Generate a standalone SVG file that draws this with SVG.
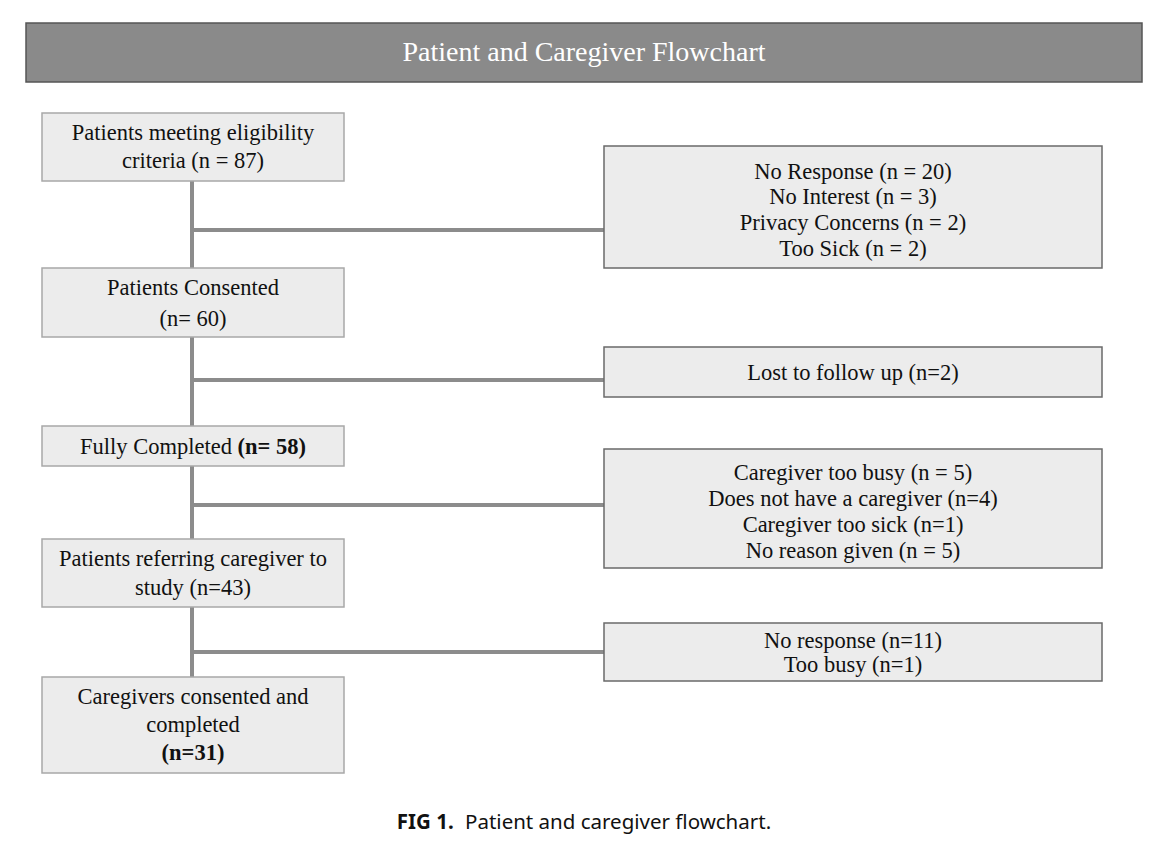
<svg xmlns="http://www.w3.org/2000/svg" width="1168" height="856" viewBox="0 0 1168 856">
<style>
.bg{fill:#ffffff}
.title{fill:#8a8a8a;stroke:#555;stroke-width:1.5}
.tt{font-family:"Liberation Serif","Times New Roman",serif;font-size:28px;fill:#ffffff;text-anchor:middle}
.lbox{fill:#ececec;stroke:#a8a8a8;stroke-width:1.5}
.rbox{fill:#ececec;stroke:#6a6a6a;stroke-width:1.5}
.t{font-family:"Liberation Serif","Times New Roman",serif;font-size:22.5px;fill:#111;text-anchor:middle}
.b{font-weight:bold}
.conn{stroke:#8c8c8c;stroke-width:4;fill:none}
.cap{font-family:"Noto Sans","Open Sans",sans-serif;font-size:20.5px;fill:#111;text-anchor:middle}
</style>
<rect class="bg" x="0" y="0" width="1168" height="856"/>
<g id="header">
<rect class="title" x="26" y="23" width="1116" height="59"/>
<text class="tt" x="584" y="61">Patient and Caregiver Flowchart</text>
</g>
<g id="connectors">
<path class="conn" d="M192 181V268M192 337V426M192 466V539M192 607V677"/>
<path class="conn" d="M192 230H604M192 380H604M192 505H604M192 652H604"/>
</g>
<g id="n1">
<rect class="lbox" x="42" y="113" width="302" height="68"/>
<text class="t" x="193" y="140">Patients meeting eligibility</text>
<text class="t" x="193" y="168">criteria (n = 87)</text>
</g>
<g id="e1">
<rect class="rbox" x="604" y="146" width="498" height="122"/>
<text class="t" x="853" y="179">No Response (n = 20)</text>
<text class="t" x="853" y="204">No Interest (n = 3)</text>
<text class="t" x="853" y="230">Privacy Concerns (n = 2)</text>
<text class="t" x="853" y="256">Too Sick (n = 2)</text>
</g>
<g id="n2">
<rect class="lbox" x="42" y="268" width="302" height="69"/>
<text class="t" x="193" y="295">Patients Consented</text>
<text class="t" x="193" y="326">(n= 60)</text>
</g>
<g id="e2">
<rect class="rbox" x="604" y="347" width="498" height="50"/>
<text class="t" x="853" y="380">Lost to follow up (n=2)</text>
</g>
<g id="n3">
<rect class="lbox" x="42" y="426" width="302" height="40"/>
<text class="t" x="193" y="454">Fully Completed <tspan class="b">(n= 58)</tspan></text>
</g>
<g id="e3">
<rect class="rbox" x="604" y="449" width="498" height="119"/>
<text class="t" x="853" y="480">Caregiver too busy (n = 5)</text>
<text class="t" x="853" y="506">Does not have a caregiver (n=4)</text>
<text class="t" x="853" y="532">Caregiver too sick (n=1)</text>
<text class="t" x="853" y="558">No reason given (n = 5)</text>
</g>
<g id="n4">
<rect class="lbox" x="42" y="539" width="302" height="68"/>
<text class="t" x="193" y="566">Patients referring caregiver to</text>
<text class="t" x="193" y="595">study (n=43)</text>
</g>
<g id="e4">
<rect class="rbox" x="604" y="623" width="498" height="58"/>
<text class="t" x="853" y="648">No response (n=11)</text>
<text class="t" x="853" y="672">Too busy (n=1)</text>
</g>
<g id="n5">
<rect class="lbox" x="42" y="677" width="302" height="96"/>
<text class="t" x="193" y="704">Caregivers consented and</text>
<text class="t" x="193" y="732">completed</text>
<text class="t b" x="193" y="760">(n=31)</text>
</g>
<g id="caption">
<text class="cap" x="584" y="829"><tspan font-weight="bold">FIG 1.</tspan><tspan dx="6"> Patient and caregiver flowchart.</tspan></text>
</g>
</svg>
